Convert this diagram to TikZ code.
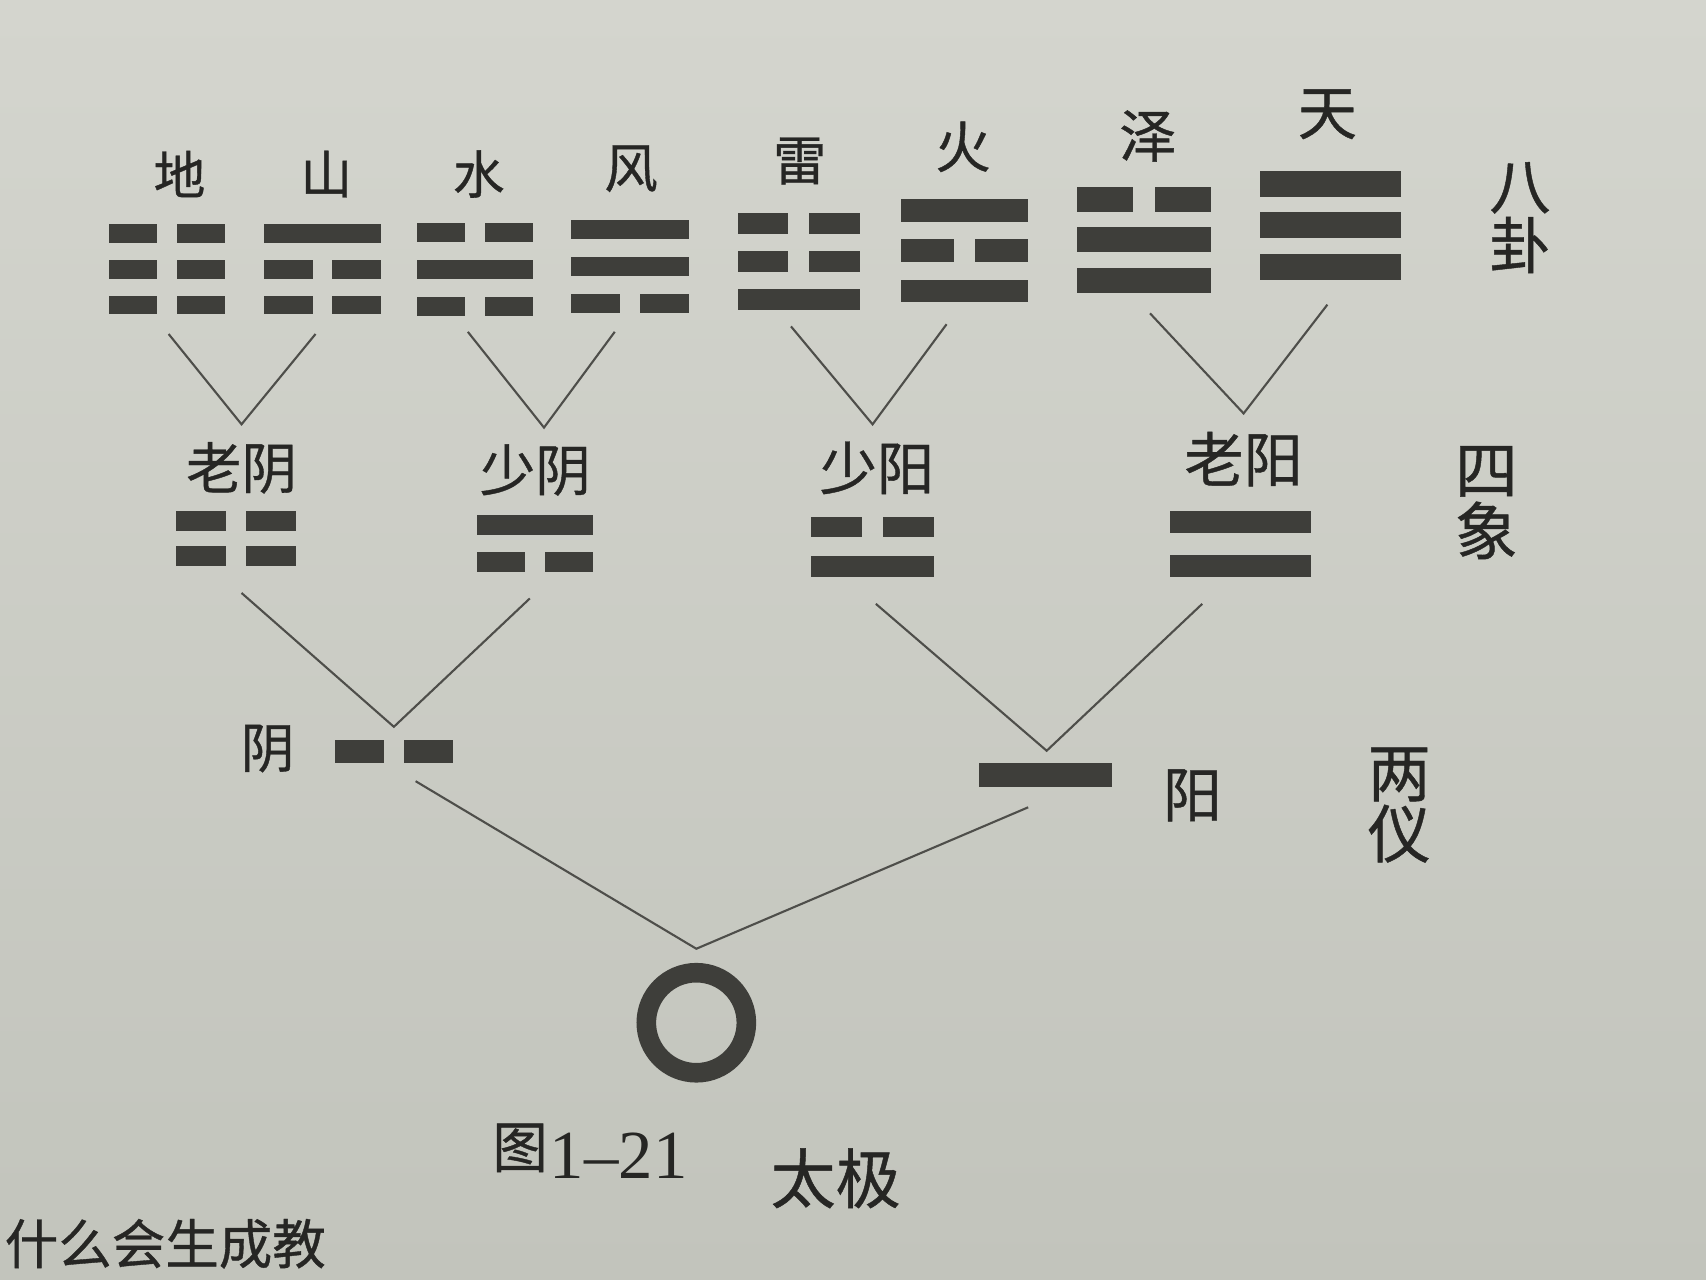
\documentclass[tikz,border=0pt]{standalone}
\usepackage{fontspec}
\newfontfamily\cjk[FakeBold=0.7]{Noto Sans CJK SC}
\newfontfamily\capfont{Liberation Serif}
\definecolor{paperT}{RGB}{212,213,206}
\definecolor{paperB}{RGB}{194,196,188}
\definecolor{ink}{RGB}{38,38,36}
\definecolor{barc}{RGB}{62,62,58}
\definecolor{wire}{RGB}{78,78,74}
% solid line: x1 x2 ytop ybot
\newcommand\yangbar[4]{\fill[barc] (#1,#3) rectangle (#2,#4);}
% broken line
\newcommand\yinbar[4]{%
  \pgfmathsetmacro\gapA{#1+0.415*(#2-#1)}%
  \pgfmathsetmacro\gapB{#1+0.585*(#2-#1)}%
  \fill[barc] (#1,#3) rectangle (\gapA,#4);
  \fill[barc] (\gapB,#3) rectangle (#2,#4);}
\newcommand\gline[5]{\if#5Y\yangbar{#1}{#2}{#3}{#4}\else\yinbar{#1}{#2}{#3}{#4}\fi}
% trigram: x1 x2 top pitch height  top-mid-bottom types
\newcommand\gua[8]{%
  \pgfmathsetmacro\rA{#3}\pgfmathsetmacro\rAb{#3+#5}%
  \pgfmathsetmacro\rB{#3+#4}\pgfmathsetmacro\rBb{#3+#4+#5}%
  \pgfmathsetmacro\rC{#3+2*#4}\pgfmathsetmacro\rCb{#3+2*#4+#5}%
  \gline{#1}{#2}{\rA}{\rAb}{#6}%
  \gline{#1}{#2}{\rB}{\rBb}{#7}%
  \gline{#1}{#2}{\rC}{\rCb}{#8}}
% digram: x1 x2 top pitch height  top-bottom types
\newcommand\xiang[7]{%
  \pgfmathsetmacro\rA{#3}\pgfmathsetmacro\rAb{#3+#5}%
  \pgfmathsetmacro\rB{#3+#4}\pgfmathsetmacro\rBb{#3+#4+#5}%
  \gline{#1}{#2}{\rA}{\rAb}{#6}%
  \gline{#1}{#2}{\rB}{\rBb}{#7}}
\begin{document}
\begin{tikzpicture}[x=0.02cm,y=-0.02cm,
  lbl/.style={inner sep=0pt,text=ink,align=center,font=\cjk\fontsize{#1}{#1}\selectfont},
  lbl/.default=27,
  wirel/.style={draw=wire,line width=1.1pt},
  ringnode/.style={circle,draw=barc,line width=0.36cm,minimum size=1.84cm,inner sep=0pt}]
\useasboundingbox (0,0) rectangle (1568,1176);
\clip (0,0) rectangle (1568,1176);
\shade[top color=paperT,bottom color=paperB] (0,0) rectangle (1568,1176);

% ---------- eight trigrams ----------
\gua{100}{207}{206}{33}{17}{N}{N}{N}
\gua{243}{350}{206}{33}{17}{Y}{N}{N}
\gua{383}{490}{205}{34}{17}{N}{Y}{N}
\gua{525}{633}{202}{34}{18}{Y}{Y}{N}
\gua{678}{790}{196}{35}{19}{N}{N}{Y}
\gua{828}{945}{183}{37}{21}{Y}{N}{Y}
\gua{990}{1113}{172}{37}{23}{N}{Y}{Y}
\gua{1158}{1288}{157}{38}{24}{Y}{Y}{Y}

\node[lbl=27] (tKun)  at (165,160) {地};
\node[lbl=27] (tGen)  at (300,160) {山};
\node[lbl=27] (tKan)  at (440,160) {水};
\node[lbl=28] (tXun)  at (580,155) {风};
\node[lbl=28] (tZhen) at (735,148) {雷};
\node[lbl=29] (tLi)   at (885,135) {火};
\node[lbl=30] (tDui)  at (1055,125) {泽};
\node[lbl=31] (tQian) at (1220,105) {天};
\node[lbl=32] (bagua) at (1397,200) {八\\[-1pt]卦};

% ---------- four symbols ----------
\xiang{162}{272}{470}{32}{18}{N}{N}
\xiang{438}{545}{473}{34}{19}{Y}{N}
\xiang{745}{858}{475}{36}{19}{N}{Y}
\xiang{1075}{1205}{470}{40}{20}{Y}{Y}

\node[lbl=29] (sLaoyin)   at (222,430) {老阴};
\node[lbl=29] (sShaoyin)  at (492,432) {少阴};
\node[lbl=30] (sShaoyang) at (806,430) {少阳};
\node[lbl=31] (sLaoyang)  at (1143,422) {老阳};
\node[lbl=33] (sixiang) at (1366,462) {四\\[-1pt]象};

% ---------- two modes ----------
\yinbar{308}{416}{680}{701}
\yangbar{900}{1022}{701}{723}
\node[lbl=28] (lYin)  at (246,688) {阴};
\node[lbl=31] (lYang) at (1096,731) {阳};
\node[lbl=33] (liangyi) at (1286,740) {两\\[-1pt]仪};

% ---------- connector points ----------
\coordinate (kunB)  at (155,307);
\coordinate (genB)  at (290,307);
\coordinate (kanB)  at (430,305);
\coordinate (xunB)  at (565,305);
\coordinate (zhenB) at (727,300);
\coordinate (liB)   at (870,298);
\coordinate (duiB)  at (1057,288);
\coordinate (qianB) at (1220,280);
\coordinate (laoyinT)   at (222,390);
\coordinate (shaoyinT)  at (500,393);
\coordinate (shaoyangT) at (802,390);
\coordinate (laoyangT)  at (1143,380);
\coordinate (laoyinB)   at (222,545);
\coordinate (shaoyinB)  at (487,550);
\coordinate (shaoyangB) at (805,555);
\coordinate (laoyangB)  at (1105,555);
\coordinate (yinT)  at (362,668);
\coordinate (yangT) at (962,690);
\coordinate (yinB)  at (382,718);
\coordinate (yangB) at (945,742);
\coordinate (taijiT) at (640,872);

\draw[wirel] (kunB) -- (laoyinT) -- (genB);
\draw[wirel] (kanB) -- (shaoyinT) -- (xunB);
\draw[wirel] (zhenB) -- (shaoyangT) -- (liB);
\draw[wirel] (duiB) -- (laoyangT) -- (qianB);
\draw[wirel] (laoyinB) -- (yinT) -- (shaoyinB);
\draw[wirel] (shaoyangB) -- (yangT) -- (laoyangB);
\draw[wirel] (yinB) -- (taijiT) -- (yangB);

% ---------- taiji ----------
\node[ringnode] (taiji) at (640,940) {};
\node[lbl=29] (capA) at (478,1055) {图};
\node[inner sep=0pt,text=ink,font=\capfont\fontsize{36}{36}\selectfont,anchor=west] (capB) at (505,1062) {1–21};
\node[lbl=34] (capC) at (768,1083) {太极};

% ---------- body text at the lower edge ----------
\node[lbl=28,anchor=north west] (body) at (4,1120) {什么会生成教};
\end{tikzpicture}
\end{document}
